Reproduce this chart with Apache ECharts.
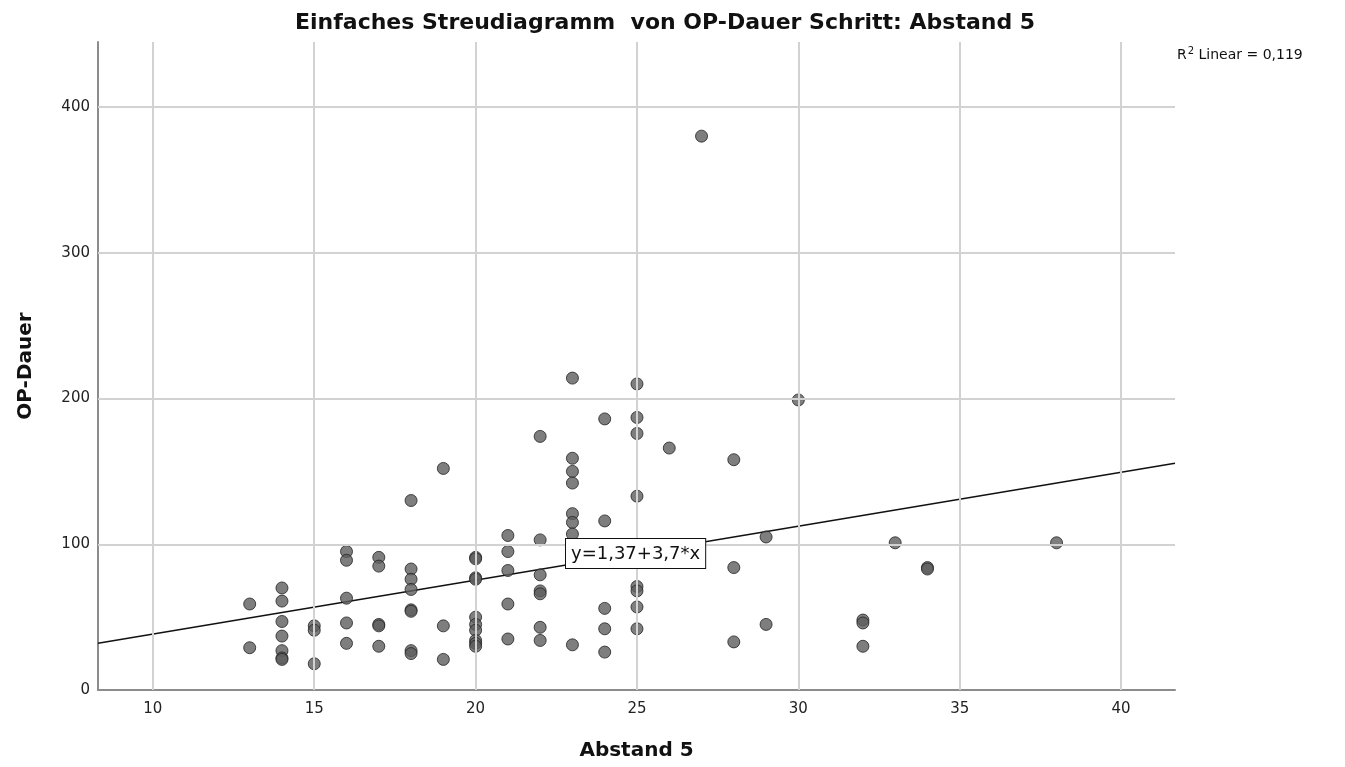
<!DOCTYPE html>
<html>
<head>
<meta charset="utf-8">
<script src="https://cdn.jsdelivr.net/npm/echarts@6/dist/echarts.min.js"></script>
<style>
  html, body { margin: 0; padding: 0; background: #fff; }
  #chart-container { width: 1345px; height: 767px; }
</style>
</head>
<body>
<div id="chart-container"></div>
<script>
const abstand = [
  13, 13,
  14, 14, 14, 14, 14, 14, 14,
  15, 15, 15,
  16, 16, 16, 16, 16,
  17, 17, 17, 17, 17,
  18, 18, 18, 18, 18, 18, 18, 18,
  19, 19, 19,
  20, 20, 20, 20, 20, 20, 20, 20, 20, 20,
  21, 21, 21, 21, 21,
  22, 22, 22, 22, 22, 22, 22,
  23, 23, 23, 23, 23, 23, 23, 23,
  24, 24, 24, 24, 24,
  25, 25, 25, 25, 25, 25, 25, 25,
  26, 27,
  28, 28, 28,
  29, 29,
  30,
  32, 32, 32,
  33,
  34, 34,
  38
];
const opDauer = [
  59, 29,
  70, 61, 47, 37, 27, 22, 21,
  44, 41, 18,
  95, 89, 63, 46, 32,
  91, 85, 45, 44, 30,
  130, 83, 76, 69, 55, 54, 27, 25,
  152, 44, 21,
  91, 90, 77, 76, 50, 45, 41, 34, 32, 30,
  106, 95, 82, 59, 35,
  174, 103, 79, 68, 66, 43, 34,
  214, 159, 150, 142, 121, 115, 107, 31,
  186, 116, 56, 42, 26,
  210, 187, 176, 133, 71, 68, 57, 42,
  166, 380,
  158, 84, 33,
  105, 45,
  199,
  48, 46, 30,
  101,
  84, 83,
  101
];

// Achsen-Beschriftungen
const xTicks = [10, 15, 20, 25, 30, 35, 40];
const yTicks = [0, 100, 200, 300, 400];
const xRange = [8.3, 41.67];
const yRange = [0, 444.6];

// Regressionsgerade y = 1,37 + 3,7*x
const intercept = 1.37;
const slope = 3.7;
const r2 = '0,119';

const fontFam = '"DejaVu Sans", sans-serif';

const points = abstand.map((x, i) => [x, opDauer[i]]);
const fitLine = xRange.map(x => [x, intercept + slope * x]);

const myChart = echarts.init(document.getElementById('chart-container'));
const option = {
  animation: false,
  title: {
    text: 'Einfaches Streudiagramm  von OP-Dauer Schritt: Abstand 5',
    left: 290,
    top: 7,
    textStyle: { fontFamily: fontFam, fontSize: 22, fontWeight: 'bold', color: '#111' }
  },
  grid: { left: 98, right: 170, top: 42, bottom: 77 },
  xAxis: {
    type: 'value',
    min: xRange[0],
    max: xRange[1],
    name: 'Abstand 5',
    nameLocation: 'middle',
    nameGap: 51,
    nameTextStyle: { fontFamily: fontFam, fontSize: 20, fontWeight: 'bold', color: '#111' },
    axisLine: { show: true, onZero: false, lineStyle: { color: '#8c8c8c', width: 2 } },
    axisTick: { show: false },
    splitLine: { show: false },
    axisLabel: {
      customValues: xTicks,
      fontFamily: fontFam, fontSize: 15, color: '#222', margin: 12
    }
  },
  yAxis: {
    type: 'value',
    min: yRange[0],
    max: yRange[1],
    name: 'OP-Dauer',
    nameLocation: 'middle',
    nameGap: 62,
    nameTextStyle: { fontFamily: fontFam, fontSize: 20, fontWeight: 'bold', color: '#111' },
    axisLine: { show: true, onZero: false, lineStyle: { color: '#8c8c8c', width: 2 } },
    axisTick: { show: false },
    splitLine: { show: false },
    axisLabel: {
      customValues: yTicks,
      fontFamily: fontFam, fontSize: 15, color: '#222', margin: 8
    }
  },
  series: [
    {
      // Gitterlinien
      name: 'grid',
      type: 'scatter',
      data: [],
      silent: true,
      z: 1,
      markLine: {
        silent: true,
        symbol: 'none',
        label: { show: false },
        lineStyle: { color: '#d2d2d2', width: 2, type: 'solid' },
        data: xTicks.map(v => ({ xAxis: v }))
          .concat(yTicks.filter(v => v > 0).map(v => ({ yAxis: v })))
      }
    },
    {
      name: 'Anpassungslinie',
      type: 'line',
      data: fitLine,
      symbol: 'none',
      silent: true,
      z: 3,
      lineStyle: { color: '#111', width: 1.5 }
    },
    {
      name: 'OP-Dauer',
      type: 'scatter',
      data: points,
      symbol: 'circle',
      symbolSize: 12,
      z: 4,
      itemStyle: { color: '#5e5e5e', borderColor: '#222', borderWidth: 1 }
    }
  ],
  graphic: [
    {
      type: 'text',
      left: 565,
      top: 538,
      z: 10,
      style: {
        text: 'y=1,37+3,7*x',
        fontFamily: fontFam,
        fontSize: 18,
        fill: '#111',
        backgroundColor: '#fff',
        borderColor: '#111',
        borderWidth: 1,
        padding: [6, 5, 5, 5]
      }
    },
    {
      type: 'text',
      left: 1177,
      top: 46,
      style: {
        text: '{b|R}{s|2}{b| Linear = ' + r2 + '}',
        rich: {
          b: { fontFamily: fontFam, fontSize: 14, fill: '#111', color: '#111', verticalAlign: 'bottom' },
          s: { fontFamily: fontFam, fontSize: 10, fill: '#111', color: '#111', verticalAlign: 'top', padding: [0, 0, 6, 1] }
        }
      }
    }
  ]
};
myChart.setOption(option);
</script>
</body>
</html>
